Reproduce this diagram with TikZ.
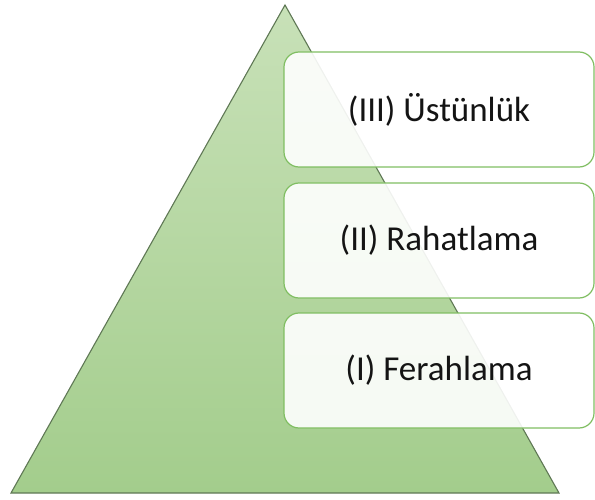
\documentclass[tikz,border=0pt]{standalone}
\usepackage{fontspec}
\setmainfont{Carlito}
\usepackage{tikz}
\usepackage{xcolor}
\usetikzlibrary{positioning}
\definecolor{pygreentop}{RGB}{200, 225, 184}
\definecolor{pygreenbot}{RGB}{163, 205, 140}
\definecolor{pyedge}{RGB}{95, 120, 85}
\definecolor{pyboxline}{RGB}{128, 190, 98}
\definecolor{pytext}{RGB}{20, 20, 20}

\begin{document}
\begin{tikzpicture}[
  x=1pt, y=-1pt,
  pyramid/.style={
    top color=pygreentop, bottom color=pygreenbot,
    draw=pyedge, line width=1.1pt, line join=miter
  },
  levelbox/.style={
    rectangle, rounded corners=15pt,
    draw=pyboxline, fill=white, fill opacity=0.9, text opacity=1,
    minimum width=310pt, minimum height=115pt,
    line width=1.2pt,
    font=\fontsize{35}{41}\selectfont, text=pytext
  },
]

\useasboundingbox (0,0) rectangle (595,500);

%% ================================================================
%% PYRAMID
%% ================================================================
\coordinate (apex)  at (285, 5);
\coordinate (baseL) at (11, 493);
\coordinate (baseR) at (559, 493);

\shadedraw[pyramid] (apex) -- (baseR) -- (baseL) -- cycle;

%% ================================================================
%% LEVEL BOXES (top = III, bottom = I)
%% ================================================================
\node[levelbox] (lvl3) at (439, 109.5) {(III) Üstünlük};
\node[levelbox] (lvl2) at (439, 240.5) {(II) Rahatlama};
\node[levelbox] (lvl1) at (439, 370.5) {(I) Ferahlama};

\end{tikzpicture}
\end{document}
